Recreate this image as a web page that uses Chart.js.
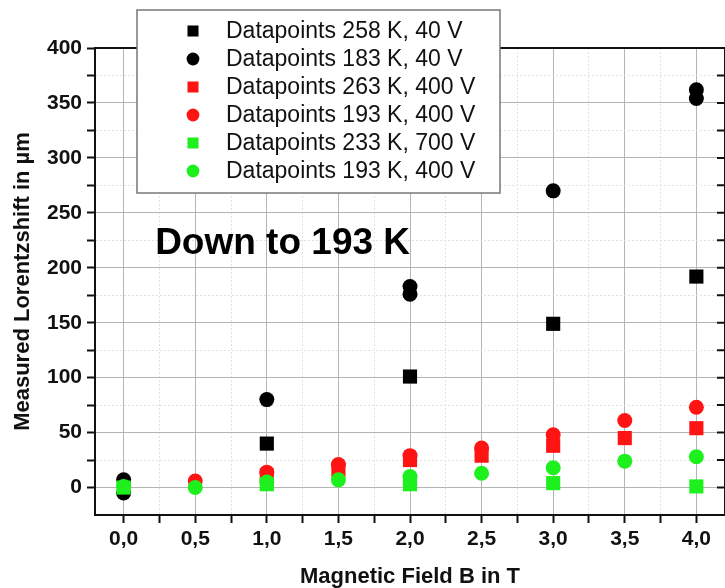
<!DOCTYPE html>
<html>
<head>
<meta charset="utf-8">
<script src="https://cdn.jsdelivr.net/npm/chart.js@4.4.1/dist/chart.umd.min.js"></script>
<style>
html, body { margin: 0; padding: 0; overflow: hidden; background: #fff; }
#wrap { width: 735px; height: 588px; }
</style>
</head>
<body>
<div id="wrap"><canvas id="chart"></canvas></div>
<script>
// Series labels (legend order)
const seriesLabels = [
    "Datapoints 258 K, 40 V",
    "Datapoints 183 K, 40 V",
    "Datapoints 263 K, 400 V",
    "Datapoints 193 K, 400 V",
    "Datapoints 233 K, 700 V",
    "Datapoints 193 K, 400 V"
];

// Magnetic field (T) and measured shift (um) per series
const black258X = [1.0, 2.0, 3.0, 4.0];
const black258Y = [40, 101, 149, 192];

const black183X = [0.0, 0.0, 1.0, 2.0, 2.0, 3.0, 4.0, 4.0];
const black183Y = [7, -5, 80, 183, 176, 270, 362, 354];

const red263X = [1.0, 1.5, 2.0, 2.5, 3.0, 3.5, 4.0];
const red263Y = [11, 16, 25, 29, 38, 45, 54];

const red193X = [0.5, 1.0, 1.5, 2.0, 2.5, 3.0, 3.5, 4.0];
const red193Y = [6, 14, 21, 29, 36, 48, 61, 73];

const green233X = [0.0, 1.0, 2.0, 3.0, 4.0];
const green233Y = [0, 3, 3, 4, 1];

const green193X = [0.0, 0.5, 1.0, 1.5, 2.0, 2.5, 3.0, 3.5, 4.0];
const green193Y = [1, 0, 5, 7, 10, 13, 18, 24, 28];

// Axis ticks (major + minor)
const xTickValues = [0, 0.25, 0.5, 0.75, 1, 1.25, 1.5, 1.75, 2, 2.25, 2.5, 2.75, 3, 3.25, 3.5, 3.75, 4];
const yTickValues = [0, 25, 50, 75, 100, 125, 150, 175, 200, 225, 250, 275, 300, 325, 350, 375, 400];

const BLACK = "#000000";
const RED = "#ff1414";
const GREEN = "#1ef01e";
const FONT = '"Liberation Sans", Arial, sans-serif';

function points(xs, ys) {
    return xs.map((v, i) => ({ x: v, y: ys[i] }));
}

function isMajorX(v) { return Math.abs(v * 2 - Math.round(v * 2)) < 1e-6; }
function isMajorY(v) { return v % 50 === 0; }

function makeSet(i, xs, ys, color, style, order) {
    return {
        label: seriesLabels[i],
        data: points(xs, ys),
        backgroundColor: color,
        borderColor: color,
        borderWidth: 0,
        pointStyle: style,
        pointRadius: style === "rect" ? 10 : 7.5,
        pointHoverRadius: style === "rect" ? 10 : 7.5,
        showLine: false,
        order: order
    };
}

// Frame (top/right) with inward ticks on the right, annotation and legend box
const framePlugin = {
    id: "frame",
    afterDraw(chart) {
        const ctx = chart.ctx;
        const a = chart.chartArea;
        const y = chart.scales.y;
        ctx.save();
        ctx.strokeStyle = "#111";
        ctx.lineWidth = 2;
        ctx.beginPath();
        ctx.moveTo(a.left, a.top);
        ctx.lineTo(a.right, a.top);
        ctx.lineTo(a.right, a.bottom);
        yTickValues.forEach(v => {
            const py = y.getPixelForValue(v);
            ctx.moveTo(a.right, py);
            ctx.lineTo(a.right - 8, py);
        });
        ctx.stroke();

        // annotation
        ctx.fillStyle = "#000";
        ctx.font = "bold 37px " + FONT;
        ctx.textBaseline = "middle";
        ctx.textAlign = "left";
        ctx.fillText("Down to 193 K", chart.scales.x.getPixelForValue(0.22), y.getPixelForValue(222));

        // legend box
        const lx = a.left + 42, ly = 10, lw = 363, lh = 183;
        ctx.fillStyle = "#fff";
        ctx.fillRect(lx, ly, lw, lh);
        ctx.strokeStyle = "#777";
        ctx.lineWidth = 1.5;
        ctx.strokeRect(lx, ly, lw, lh);

        ctx.font = "23px " + FONT;
        chart.data.datasets.forEach((ds, i) => {
            const ry = ly + 21 + i * 28;
            ctx.fillStyle = ds.backgroundColor;
            ctx.strokeStyle = ds.backgroundColor;
            Chart.helpers.drawPoint(ctx, {
                pointStyle: ds.pointStyle,
                radius: ds.pointStyle === "rect" ? 7.8 : 6.4,
                rotation: 0,
                borderWidth: 0
            }, lx + 56, ry);
            ctx.fillStyle = "#111";
            ctx.fillText(ds.label, lx + 89, ry + 1);
        });
        ctx.restore();
    }
};

new Chart(document.getElementById("chart"), {
    type: "scatter",
    data: {
        datasets: [
            makeSet(0, black258X, black258Y, BLACK, "rect", 4),
            makeSet(1, black183X, black183Y, BLACK, "circle", 3),
            makeSet(2, red263X, red263Y, RED, "rect", 2),
            makeSet(3, red193X, red193Y, RED, "circle", 2),
            makeSet(4, green233X, green233Y, GREEN, "rect", 1),
            makeSet(5, green193X, green193Y, GREEN, "circle", 0)
        ]
    },
    options: {
        responsive: true,
        maintainAspectRatio: false,
        animation: false,
        events: [],
        layout: { padding: { top: 48, right: 6, left: 0, bottom: 0 } },
        plugins: {
            legend: { display: false },
            tooltip: { enabled: false }
        },
        scales: {
            x: {
                type: "linear",
                min: -0.2,
                max: 4.2,
                afterBuildTicks: s => { s.ticks = xTickValues.map(v => ({ value: v })); },
                afterFit: s => { s.height = 73; },
                ticks: {
                    autoSkip: false,
                    maxRotation: 0,
                    padding: 4,
                    color: "#111",
                    font: { family: FONT, size: 21, weight: "bold" },
                    callback: v => isMajorX(v) ? v.toFixed(1).replace(".", ",") : ""
                },
                grid: {
                    color: c => (c.tick && isMajorX(c.tick.value)) ? "#b4b4b4" : "#e2e2e2",
                    lineWidth: 1,
                    tickLength: 8,
                    tickColor: "#111",
                    tickWidth: 2
                },
                border: {
                    color: "#111",
                    width: 2,
                    dash: c => (c.tick && !isMajorX(c.tick.value)) ? [2, 2] : []
                },
                title: {
                    display: true,
                    text: "Magnetic Field B in T",
                    color: "#111",
                    font: { family: FONT, size: 22, weight: "bold", lineHeight: 1 },
                    padding: { top: 0, bottom: 0 }
                }
            },
            y: {
                min: -25,
                max: 400,
                afterBuildTicks: s => { s.ticks = yTickValues.map(v => ({ value: v })); },
                afterFit: s => { s.width = 95; },
                ticks: {
                    autoSkip: false,
                    padding: 5,
                    color: "#111",
                    font: { family: FONT, size: 21, weight: "bold" },
                    callback: v => isMajorY(v) ? String(v) : ""
                },
                grid: {
                    color: c => (c.tick && isMajorY(c.tick.value)) ? "#b4b4b4" : "#e2e2e2",
                    lineWidth: 1,
                    tickLength: 8,
                    tickColor: "#111",
                    tickWidth: 2
                },
                border: {
                    color: "#111",
                    width: 2,
                    dash: c => (c.tick && !isMajorY(c.tick.value)) ? [2, 2] : []
                },
                title: {
                    display: true,
                    text: "Measured Lorentzshift in µm",
                    color: "#111",
                    font: { family: FONT, size: 22, weight: "bold", lineHeight: 1 },
                    padding: { top: 12, bottom: 0 }
                }
            }
        }
    },
    plugins: [framePlugin]
});
</script>
</body>
</html>
